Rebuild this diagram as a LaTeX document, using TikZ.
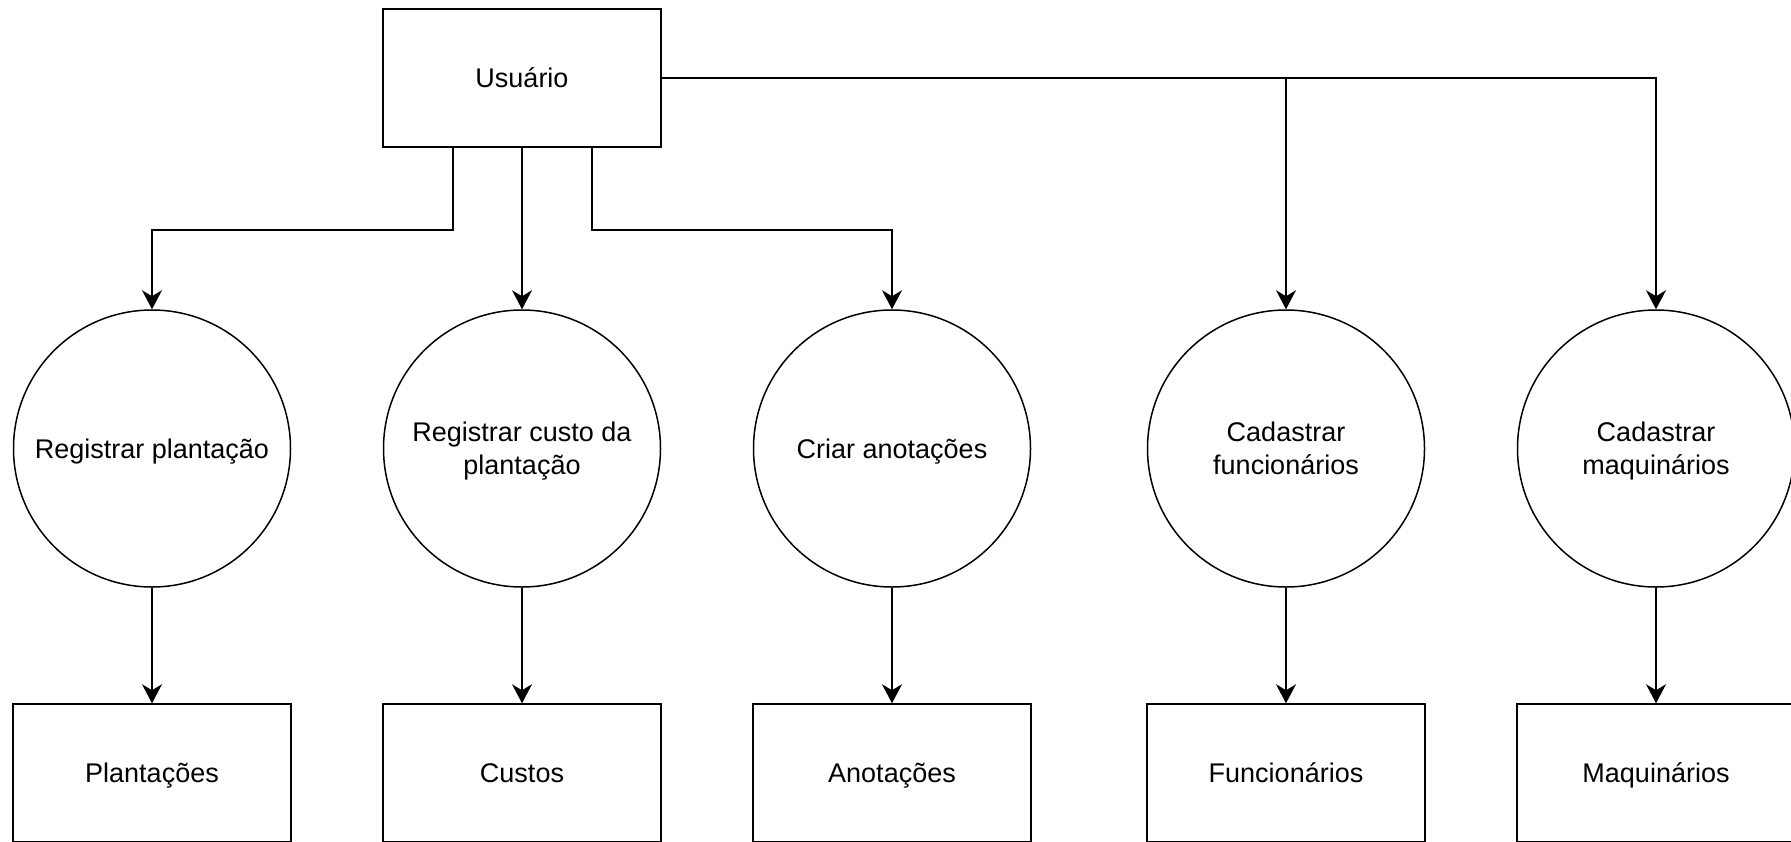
\documentclass[tikz,border=0pt]{standalone}
\usepackage{fontspec}
\setmainfont{Liberation Sans}
\usetikzlibrary{arrows.meta}
\newcommand\mystrut{\rule[-6.6pt]{0pt}{32.6pt}}
\begin{document}
\begin{tikzpicture}[x=1pt,y=-1pt,
  every node/.style={font=\fontsize{27}{33}\selectfont, align=center},
  boxnode/.style={draw, line width=1.5pt, rectangle, minimum width=278pt, minimum height=138pt, inner sep=0pt},
  procnode/.style={draw, line width=1.5pt, circle, minimum size=277pt, inner sep=0pt},
  arr/.style={line width=1.5pt, -{Stealth[length=19pt, width=20pt, inset=6pt]}}]
\useasboundingbox (0,0) rectangle (1791,841);
\node[boxnode] (u) at (522,78) {\mystrut Usuário};
\node[procnode] (c1) at (152,448.5) {\mystrut Registrar plantação};
\node[procnode] (c2) at (522,448.5) {\mystrut Registrar custo da\\plantação\mystrut};
\node[procnode] (c3) at (892,448.5) {\mystrut Criar anotações};
\node[procnode] (c4) at (1286,448.5) {\mystrut Cadastrar\\funcionários\mystrut};
\node[procnode] (c5) at (1656,448.5) {\mystrut Cadastrar\\maquinários\mystrut};
\node[boxnode] (b1) at (152,773) {\mystrut Plantações};
\node[boxnode] (b2) at (522,773) {\mystrut Custos};
\node[boxnode] (b3) at (892,773) {\mystrut Anotações};
\node[boxnode] (b4) at (1286,773) {\mystrut Funcionários};
\node[boxnode] (b5) at (1656,773) {\mystrut Maquinários};
\draw[arr] ([xshift=-69pt]u.south) -- ++(0,82) -| (c1.north);
\draw[arr] (u.south) -- (c2.north);
\draw[arr] ([xshift=70pt]u.south) -- ++(0,82) -| (c3.north);
\draw[arr] (u.east) -| (c4.north);
\draw[arr] (u.east) -| (c5.north);
\draw[arr] (c1.south) -- (b1.north);
\draw[arr] (c2.south) -- (b2.north);
\draw[arr] (c3.south) -- (b3.north);
\draw[arr] (c4.south) -- (b4.north);
\draw[arr] (c5.south) -- (b5.north);
\end{tikzpicture}
\end{document}
